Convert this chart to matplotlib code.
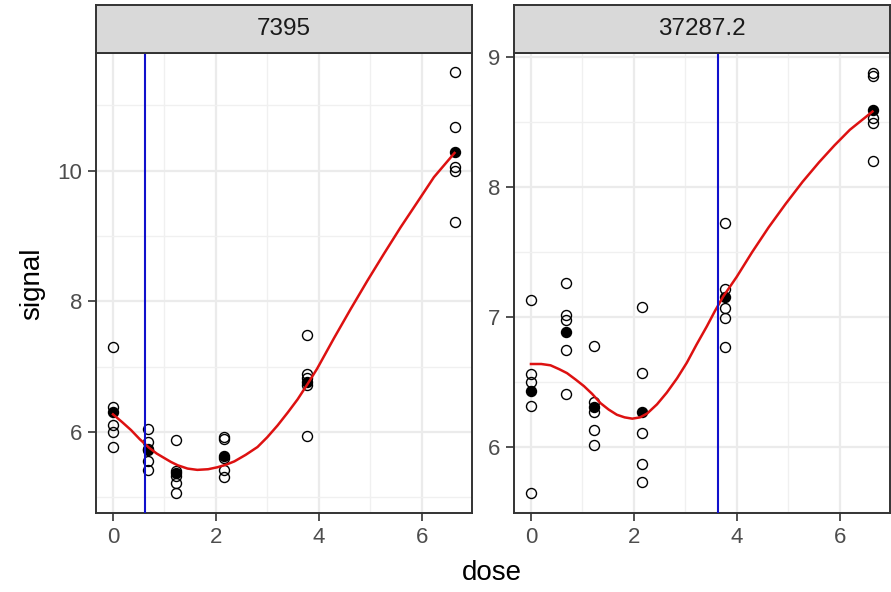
import matplotlib
matplotlib.use("Agg")
import matplotlib.pyplot as plt
from matplotlib.ticker import MultipleLocator

plt.rcParams["font.family"] = ["Liberation Sans", "DejaVu Sans"]

# ---- data ----
DOSES = [0.0, 0.69, 1.22, 2.15, 3.78, 6.65]

panel_titles = ["7395", "37287.2"]

# replicate signals per dose (5 each)
signal_7395 = [
    [7.30, 6.38, 6.11, 6.00, 5.77],
    [6.04, 5.84, 5.74, 5.55, 5.42],
    [5.88, 5.40, 5.33, 5.22, 5.06],
    [5.93, 5.89, 5.60, 5.42, 5.31],
    [7.49, 6.88, 6.82, 6.72, 5.94],
    [11.51, 10.67, 10.06, 9.99, 9.21],
]
signal_37287 = [
    [7.13, 6.56, 6.50, 6.32, 5.65],
    [7.26, 7.02, 6.98, 6.75, 6.41],
    [6.78, 6.35, 6.27, 6.13, 6.02],
    [7.08, 6.57, 6.11, 5.87, 5.73],
    [7.72, 7.22, 7.07, 6.99, 6.77],
    [8.88, 8.85, 8.53, 8.49, 8.20],
]

# fitted curve
fit_x_7395 = [0.0, 0.18, 0.35, 0.52, 0.70, 0.85, 1.00, 1.13, 1.26, 1.45, 1.64,
              1.85, 2.03, 2.20, 2.36, 2.58, 2.81, 3.00, 3.20, 3.40, 3.59, 3.78,
              3.97, 4.30, 4.62, 4.95, 5.27, 5.59, 5.92, 6.24, 6.64]
fit_y_7395 = [6.27, 6.15, 6.03, 5.89, 5.76, 5.67, 5.60, 5.54, 5.49, 5.44, 5.42,
              5.43, 5.46, 5.50, 5.55, 5.65, 5.77, 5.92, 6.10, 6.30, 6.50, 6.73,
              6.97, 7.44, 7.88, 8.32, 8.73, 9.13, 9.52, 9.90, 10.27]
fit_x_37287 = [0.0, 0.20, 0.38, 0.55, 0.70, 0.87, 1.03, 1.19, 1.35, 1.51, 1.67,
               1.82, 1.97, 2.12, 2.26, 2.45, 2.64, 2.84, 3.03, 3.22, 3.42, 3.58,
               3.74, 4.00, 4.30, 4.62, 4.95, 5.28, 5.60, 5.90, 6.20, 6.64]
fit_y_37287 = [6.64, 6.64, 6.63, 6.60, 6.57, 6.52, 6.47, 6.41, 6.34, 6.29, 6.25,
               6.23, 6.22, 6.23, 6.26, 6.33, 6.42, 6.53, 6.65, 6.79, 6.93, 7.05,
               7.16, 7.31, 7.50, 7.69, 7.87, 8.04, 8.19, 8.32, 8.44, 8.58]

vline_x = [0.63, 3.63]

ylims = [(4.76, 11.80), (5.495, 9.03)]
y_major = [2, 1]
y_minor = [1, 0.5]

W, H = 891, 592
fig = plt.figure(figsize=(W / 100, H / 100), dpi=100)
fig.patch.set_facecolor("white")

panel_left = [96, 514]
panel_w = 376
panel_top, panel_bot = 53, 513
strip_top = 5

series = [signal_7395, signal_37287]
fits = [(fit_x_7395, fit_y_7395), (fit_x_37287, fit_y_37287)]

for i in range(2):
    ax = fig.add_axes([panel_left[i] / W, (H - panel_bot) / H,
                       panel_w / W, (panel_bot - panel_top) / H])
    ax.set_facecolor("white")
    ax.set_xlim(-0.33, 6.98)
    ax.set_ylim(*ylims[i])
    ax.xaxis.set_major_locator(MultipleLocator(2))
    ax.xaxis.set_minor_locator(MultipleLocator(1))
    ax.yaxis.set_major_locator(MultipleLocator(y_major[i]))
    ax.yaxis.set_minor_locator(MultipleLocator(y_minor[i]))
    ax.grid(which="major", color="#EBEBEB", linewidth=1.6, zorder=0)
    ax.grid(which="minor", color="#F0F0F0", linewidth=1.0, zorder=0)
    ax.set_axisbelow(True)
    for s in ax.spines.values():
        s.set_color("#333333")
        s.set_linewidth(1.4)
    ax.tick_params(which="major", length=6, width=1.2, color="#333333",
                   labelsize=16, labelcolor="#4D4D4D", pad=4)
    ax.tick_params(which="minor", length=0)

    data = series[i]
    for d, vals in zip(DOSES, data):
        ax.plot([d] * len(vals), vals, "o", ms=7.2, mfc="none", mec="black",
                mew=1.0, zorder=3)
        ax.plot([d], [sum(vals) / len(vals)], "o", ms=7.2, mfc="black",
                mec="black", zorder=4)

    fx, fy = fits[i]
    ax.plot(fx, fy, color="#DD1111", linewidth=1.8, zorder=5,
            solid_joinstyle="round")
    ax.axvline(vline_x[i], color="#1010CC", linewidth=1.5, zorder=5)

    # facet strip
    sax = fig.add_axes([panel_left[i] / W, (H - panel_top) / H,
                        panel_w / W, (panel_top - strip_top) / H])
    sax.set_facecolor("#D9D9D9")
    sax.set_xticks([])
    sax.set_yticks([])
    for s in sax.spines.values():
        s.set_color("#333333")
        s.set_linewidth(1.4)
    sax.text(0.5, 0.5, panel_titles[i], ha="center", va="center",
             fontsize=17.5, color="#1A1A1A", transform=sax.transAxes)

fig.text(32 / W, 1 - 284 / H, "signal", rotation=90, ha="center",
         va="center", fontsize=20, color="black")
fig.text(492 / W, 1 - 573 / H, "dose", ha="center", va="center",
         fontsize=20, color="black")

fig.savefig("out.png", dpi=100)
